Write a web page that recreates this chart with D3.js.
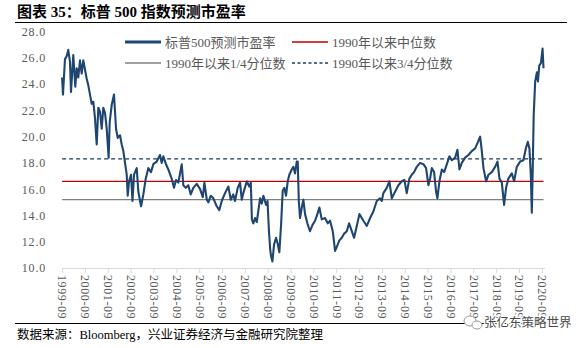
<!DOCTYPE html>
<html><head><meta charset="utf-8">
<script src="https://cdn.jsdelivr.net/npm/d3@7"></script>
<style>
body{margin:0;background:#fff;}
svg{display:block;font-family:"Liberation Serif","Times New Roman","Noto Sans CJK SC",serif;}
</style></head><body>
<svg id="chart" width="582" height="348"></svg>
<script>
// S&P 500 forward P/E, sampled dates and values
const dates = [
  "1999-09-01","1999-09-15","1999-10-17","1999-11-12","1999-12-08","2000-01-05","2000-01-21","2000-02-27","2000-03-30","2000-04-21",
  "2000-05-17","2000-06-13","2000-07-10","2000-08-05","2000-09-28","2000-10-24","2000-11-20","2000-12-17","2001-01-12","2001-02-08",
  "2001-03-07","2001-04-02","2001-04-29","2001-05-26","2001-06-21","2001-07-18","2001-08-14","2001-09-14","2001-10-01","2001-11-02",
  "2001-12-09","2002-01-10","2002-02-06","2002-03-15","2002-04-11","2002-05-07","2002-06-03","2002-06-30","2002-07-16","2002-08-06",
  "2002-09-07","2002-09-30","2002-10-25","2002-12-07","2003-01-02","2003-02-14","2003-03-23","2003-04-30","2003-06-10","2003-07-23",
  "2003-08-29","2003-10-23","2003-12-14","2004-01-10","2004-02-05","2004-03-19","2004-04-25","2004-06-18","2004-07-25","2004-08-26",
  "2004-10-02","2004-11-26","2004-12-21","2005-01-29","2005-03-11","2005-04-18","2005-05-30","2005-07-23","2005-09-15","2005-10-28",
  "2005-11-23","2005-12-31","2006-01-25","2006-03-04","2006-04-15","2006-06-08","2006-07-19","2006-08-27","2006-10-19","2006-12-11",
  "2007-01-18","2007-02-28","2007-03-27","2007-05-10","2007-06-16","2007-07-13","2007-08-08","2007-10-01","2007-11-10","2007-12-05",
  "2007-12-22","2008-01-14","2008-02-11","2008-03-09","2008-05-01","2008-05-28","2008-06-23","2008-08-05","2008-08-28","2008-09-20",
  "2008-10-10","2008-10-24","2008-11-14","2008-12-11","2009-01-12","2009-02-08","2009-03-05","2009-04-02","2009-04-28","2009-05-24",
  "2009-06-20","2009-07-17","2009-08-12","2009-09-19","2009-10-15","2009-11-11","2009-12-08","2009-12-24","2010-01-10","2010-01-30",
  "2010-02-27","2010-03-24","2010-04-20","2010-05-27","2010-07-08","2010-08-20","2010-09-27","2010-11-03","2010-12-05","2011-01-12",
  "2011-03-06","2011-04-18","2011-05-25","2011-07-07","2011-08-13","2011-09-09","2011-10-21","2011-11-28","2012-01-04","2012-02-16",
  "2012-03-24","2012-05-06","2012-06-12","2012-07-25","2012-09-05","2012-11-08","2013-01-01","2013-02-23","2013-04-16","2013-06-09",
  "2013-08-01","2013-08-28","2013-09-23","2013-11-16","2013-12-28","2014-02-05","2014-03-29","2014-05-21","2014-07-15","2014-08-25",
  "2014-10-02","2014-11-13","2014-12-21","2015-01-27","2015-03-11","2015-05-03","2015-06-25","2015-08-07","2015-09-13","2015-10-10",
  "2015-11-06","2015-12-13","2016-01-14","2016-02-04","2016-03-07","2016-04-15","2016-05-22","2016-07-04","2016-08-14","2016-09-22",
  "2016-11-14","2016-12-20","2017-01-21","2017-02-28","2017-04-22","2017-06-14","2017-08-07","2017-09-29","2017-11-05","2017-12-18",
  "2018-01-14","2018-02-09","2018-03-24","2018-04-30","2018-06-23","2018-08-15","2018-09-21","2018-10-23","2018-11-30","2019-01-05",
  "2019-02-06","2019-03-14","2019-05-08","2019-06-14","2019-07-27","2019-09-18","2019-11-10","2019-12-18","2020-01-19","2020-02-14",
  "2020-03-07","2020-03-23","2020-04-07","2020-04-22","2020-05-16","2020-06-13","2020-06-29","2020-07-20","2020-08-16","2020-09-11",
  "2020-09-26"
];
const peValues = [
  24.5,23.2,25.9,26.1,26.6,25.7,23.4,26.2,23.8,25.2,
  24.5,25.8,24.8,25.8,24.4,23.9,23.2,22.5,22.65,21.4,
  19.4,22.2,21.9,20.6,22.2,21.8,20.6,18.4,21.1,22.4,
  23.2,20.6,19.9,20.1,19.4,18.9,18.0,17.1,15.5,16.6,
  17.1,15.1,17.1,17.6,15.8,14.7,15.6,16.8,17.6,17.3,
  17.9,18.1,18.6,18.0,18.5,17.9,17.5,16.8,16.1,16.7,
  16.5,17.9,16.3,16.1,16.3,15.6,16.1,16.4,16.0,15.4,
  16.5,15.2,15.0,15.5,15.3,14.7,14.4,15.1,15.7,16.2,
  15.2,15.6,15.1,16.1,16.5,15.2,15.7,16.6,16.2,16.5,
  13.7,13.4,13.8,13.5,15.3,14.9,15.5,14.8,15.1,12.8,
  11.4,10.9,10.5,11.8,12.3,11.8,11.2,13.3,15.9,16.1,
  15.5,16.6,17.1,17.5,17.7,17.2,18.1,18.1,15.1,13.8,
  14.6,15.2,14.1,13.4,12.8,13.3,13.6,14.1,14.6,13.7,
  13.8,13.4,13.6,12.8,11.3,11.6,12.1,12.3,12.6,12.8,
  13.4,12.8,12.3,13.2,14.1,13.6,13.2,13.8,14.3,15.1,
  15.3,15.1,15.7,16.1,16.6,15.3,15.8,16.3,16.6,16.7,
  15.7,16.8,17.1,17.3,17.7,18.0,17.9,17.6,16.3,16.8,
  17.6,17.3,15.8,15.3,16.6,17.5,17.3,17.9,18.5,18.2,
  18.4,19.0,17.5,18.0,18.4,18.6,18.9,19.1,19.5,20.0,
  18.9,17.6,16.6,17.1,17.3,17.7,18.1,16.8,16.5,14.8,
  16.1,16.8,17.2,16.6,17.7,18.1,18.2,19.1,19.6,19.1,
  17.1,14.2,17.6,21.6,24.2,24.9,24.2,25.4,25.6,26.7,
  25.2
];

// Historical reference levels since 1990
const quartileUpper = 18.3;
const medianLevel = 16.6;
const quartileLower = 15.2;

const yTicks = [10, 12, 14, 16, 18, 20, 22, 24, 26, 28];
const xTickDates = d3.range(1999, 2021).map(y => y + "-09-01");

const titleText = "图表 35：标普 500 指数预测市盈率";
const sourceText = "数据来源：Bloomberg，兴业证券经济与金融研究院整理";
const seriesName = "标普500预测市盈率";
const medianName = "1990年以来中位数";
const lowerName = "1990年以来1/4分位数";
const upperName = "1990年以来3/4分位数";
const brandText = "张亿东策略世界";

const parse = d3.timeParse("%Y-%m-%d");
const fmtTick = d3.timeFormat("%Y-%m");
const series = dates.map((d, i) => ({ date: parse(d), value: peValues[i] }));

const svg = d3.select("#chart");
const W = 582, H = 348;

const x = d3.scaleTime()
  .domain([parse(dates[0]), parse(dates[dates.length - 1])])
  .range([62.1, 543.5]);
const y = d3.scaleLinear().domain([10, 28]).range([268, 31.5]);

const grey = "#595959";

// title and rules
svg.append("text").attr("x", 17).attr("y", 17)
  .attr("font-size", 15).attr("font-weight", "bold").attr("fill", "#000")
  .text(titleText);
svg.append("line").attr("x1", 15).attr("x2", 567).attr("y1", 22.5).attr("y2", 22.5)
  .attr("stroke", "#000").attr("stroke-width", 1.2);
svg.append("line").attr("x1", 15).attr("x2", 567).attr("y1", 323.5).attr("y2", 323.5)
  .attr("stroke", "#000").attr("stroke-width", 1.2);
svg.append("text").attr("x", 17).attr("y", 339)
  .attr("font-size", 12.5).attr("fill", "#000")
  .text(sourceText);

// y axis labels (no axis line)
const yAxis = d3.axisLeft(y).tickValues(yTicks).tickFormat(d3.format(".1f")).tickSize(0).tickPadding(0);
const yg = svg.append("g").attr("transform", "translate(46,0)").call(yAxis);
yg.select(".domain").remove();
yg.selectAll("text").attr("fill", grey).attr("font-size", 12)
  .attr("font-family", "Liberation Serif, serif").attr("letter-spacing", 0.8);

// x axis
const xAxis = d3.axisBottom(x).tickValues(xTickDates.map(parse)).tickFormat(fmtTick).tickSize(5).tickSizeOuter(0);
const xg = svg.append("g").attr("transform", `translate(0,${y(10)})`).call(xAxis);
xg.select(".domain").attr("stroke", "#d9d9d9").attr("d", `M62.1,0.5H545`);
xg.selectAll(".tick line").attr("stroke", "#d9d9d9");
xg.selectAll(".tick text")
  .attr("fill", grey).attr("font-size", 12).attr("font-family", "Liberation Serif, serif")
  .attr("letter-spacing", 0.6)
  .attr("transform", "rotate(90)")
  .attr("text-anchor", "start")
  .attr("x", 7).attr("y", 0).attr("dy", "0.35em");

// reference levels
const refs = [
  { v: quartileUpper, color: "#1f3b5c", dash: "4,3", w: 1.3 },
  { v: medianLevel, color: "#c00000", dash: null, w: 1.3 },
  { v: quartileLower, color: "#808080", dash: null, w: 1.3 }
];
refs.forEach(r => {
  svg.append("line")
    .attr("x1", x.range()[0]).attr("x2", x.range()[1])
    .attr("y1", y(r.v)).attr("y2", y(r.v))
    .attr("stroke", r.color).attr("stroke-width", r.w)
    .attr("stroke-dasharray", r.dash);
});

// forward P/E line
const line = d3.line().x(d => x(d.date)).y(d => y(d.value)).curve(d3.curveLinear);
svg.append("path").datum(series)
  .attr("fill", "none").attr("stroke", "#1f4571").attr("stroke-width", 2.1)
  .attr("stroke-linejoin", "round").attr("d", line);

// legend
const legend = [
  { name: seriesName, color: "#1f4571", w: 3, dash: null, lx: 125, ly: 42 },
  { name: medianName, color: "#c00000", w: 1.4, dash: null, lx: 292, ly: 42 },
  { name: lowerName, color: "#808080", w: 1.4, dash: null, lx: 125, ly: 63 },
  { name: upperName, color: "#1f3b5c", w: 1.4, dash: "3,2.5", lx: 292, ly: 63 }
];
const lg = svg.append("g");
legend.forEach(l => {
  lg.append("line").attr("x1", l.lx).attr("x2", l.lx + 36)
    .attr("y1", l.ly).attr("y2", l.ly)
    .attr("stroke", l.color).attr("stroke-width", l.w).attr("stroke-dasharray", l.dash);
  lg.append("text").attr("x", l.lx + 40).attr("y", l.ly).attr("dy", "0.36em")
    .attr("font-size", 13).attr("fill", grey).text(l.name);
});

// brand mark
const bg = svg.append("g").attr("transform", "translate(470,322)");
bg.append("ellipse").attr("cx", 0).attr("cy", -1).attr("rx", 6).attr("ry", 5)
  .attr("fill", "#fff").attr("stroke", "#9a9a9a").attr("stroke-width", 1);
bg.append("ellipse").attr("cx", 7).attr("cy", 3).attr("rx", 5).attr("ry", 4)
  .attr("fill", "#fff").attr("stroke", "#9a9a9a").attr("stroke-width", 1);
svg.append("text").attr("x", 484).attr("y", 327)
  .attr("font-size", 12.5).attr("font-family", "Noto Sans CJK SC, sans-serif")
  .attr("fill", "#4a4a4a").attr("stroke", "#fff").attr("stroke-width", 2.5)
  .attr("paint-order", "stroke").text(brandText);
</script>
</body></html>
